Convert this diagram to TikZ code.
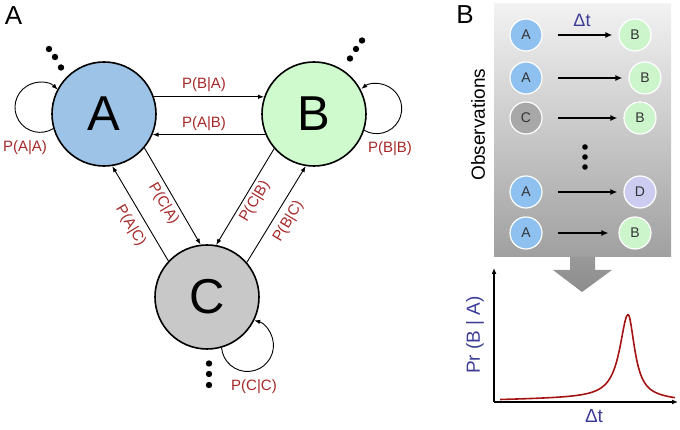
\documentclass[tikz,border=0pt]{standalone}
\usepackage{fontspec}
\setmainfont{Liberation Sans}
\usetikzlibrary{arrows.meta}
\definecolor{lblred}{RGB}{165,40,40}
\definecolor{Afill}{RGB}{157,195,230}
\definecolor{Bfill}{RGB}{206,250,206}
\definecolor{Cfill}{RGB}{200,200,200}
\definecolor{oA}{RGB}{142,192,240}
\definecolor{oB}{RGB}{204,245,204}
\definecolor{oC}{RGB}{168,168,168}
\definecolor{oD}{RGB}{204,204,240}
\definecolor{dtblue}{RGB}{60,60,150}
\definecolor{boxtop}{RGB}{242,242,242}
\definecolor{boxbot}{RGB}{160,160,160}
\definecolor{curvered}{RGB}{165,20,20}
\begin{document}
\begin{tikzpicture}[x=1pt,y=1pt,
  bigstate/.style={circle, draw=black, line width=1.6pt, minimum size=104pt, inner sep=0pt, font=\fontsize{49}{49}\selectfont},
  conn/.style={-{Latex[length=6pt,width=4.5pt]}, line width=0.9pt},
  plab/.style={text=lblred, font=\fontsize{15}{15}\selectfont, inner sep=0pt},
  panel/.style={font=\fontsize{26}{26}\selectfont, inner sep=0pt},
  obs/.style={circle, draw=white, line width=1.2pt, minimum size=32pt, inner sep=0pt, font=\fontsize{14}{14}\selectfont, text=black!80},
  obsarrow/.style={-{Latex[length=7pt,width=6pt]}, line width=1.8pt, shorten <=15pt, shorten >=6pt},
  axis/.style={-{Latex[length=6pt,width=5pt]}, line width=1.6pt},
  curve/.style={draw=curvered, line width=1.6pt},
  bluelab/.style={text=dtblue, font=\fontsize{19}{19}\selectfont, inner sep=0pt}
]
\useasboundingbox (0,0) rectangle (680,430);

% ---------- Panel A ----------
\node[panel] (pa) at (13.5,414) {A};

\node[bigstate, fill=Afill] (A) at (104,316) {A};
\node[bigstate, fill=Bfill] (B) at (314,316) {B};
\node[bigstate, fill=Cfill] (C) at (207,133) {C};

\draw[conn] (A.19) -- (B.161);
\draw[conn] (B.-157) -- (A.-23);
\draw[conn] (A.-40) -- (C.97);
\draw[conn] (C.137) -- (A.-81);
\draw[conn] (B.221) -- (C.80);
\draw[conn] (C.41) -- (B.-99);

\draw[conn] (A.196) arc[start angle=-58, end angle=-315, radius=25];
\draw[conn] (B.-18) arc[start angle=-120, end angle=128, radius=25];
\draw[conn] (C.-74) arc[start angle=185, end angle=435, radius=26];

\node[plab] (lba) at (204,345) {P(B|A)};
\node[plab] (lab) at (204,306) {P(A|B)};
\node[plab, rotate=-59] (lca) at (163.5,226) {P(C|A)};
\node[plab, rotate=-59] (lac) at (130.5,204) {P(A|C)};
\node[plab, rotate=59] (lcb) at (255,228.5) {P(C|B)};
\node[plab, rotate=59] (lbc) at (288.5,208.5) {P(B|C)};
\node[plab] (laa) at (25,282.5) {P(A|A)};
\node[plab] (lbb) at (390,281.5) {P(B|B)};
\node[plab] (lcc) at (254,43.5) {P(C|C)};

\fill (49,381) circle (3.2);
\fill (55,373) circle (3.2);
\fill (61,362.5) circle (3.2);
\fill (362,389.5) circle (3.2);
\fill (356,381) circle (3.2);
\fill (350,371.5) circle (3.2);
\fill (209,66.5) circle (3.2);
\fill (209,56) circle (3.2);
\fill (209,45) circle (3.2);

% ---------- Panel B ----------
\node[panel] (pb) at (465,415) {B};

\shade[top color=boxtop, bottom color=boxbot] (494,426) rectangle (671,173);
\shade[top color=black!40, bottom color=black!45]
  (570,173) -- (595,173) -- (595,160) -- (612,160) -- (582,138) -- (553,160) -- (570,160) -- cycle;

\node[obs, fill=oA] (l1) at (526,395) {A};
\node[obs, fill=oB] (r1) at (635,395) {B};
\node[obs, fill=oA] (l2) at (526,352) {A};
\node[obs, fill=oB] (r2) at (645,352) {B};
\node[obs, fill=oC] (l3) at (526,312) {C};
\node[obs, fill=oB] (r3) at (640,312) {B};
\node[obs, fill=oA] (l4) at (526,238) {A};
\node[obs, fill=oD] (r4) at (640,238) {D};
\node[obs, fill=oA] (l5) at (526,197) {A};
\node[obs, fill=oB] (r5) at (635,197) {B};

\draw[obsarrow] (l1) -- (r1);
\draw[obsarrow] (l2) -- (r2);
\draw[obsarrow] (l3) -- (r3);
\draw[obsarrow] (l4) -- (r4);
\draw[obsarrow, shorten >=10pt] (l5) -- (r5);

\node[bluelab, font=\fontsize{18}{18}\selectfont] (dt1) at (582,409.5) {Δt};

\fill (585,283) circle (2.8);
\fill (585,273) circle (2.8);
\fill (585,263) circle (2.8);

\node[rotate=90, font=\fontsize{19}{19}\selectfont, inner sep=0pt] (obsl) at (478,305.5) {Observations};

% plot
\coordinate (O) at (494,28);
\coordinate (ytop) at (494,162);
\coordinate (xend) at (678,28);
\draw[axis] (O) -- (ytop);
\draw[axis] (O) -- (xend);
\node[bluelab, rotate=90] (ylab) at (475,95) {Pr (B | A)};
\node[bluelab] (xlab) at (594,14) {Δt};

\draw[curve] plot[domain=500:628, samples=90]
  (\x, {30 + 0.02*(\x-500) + 83/(1+((\x-628)/10)*((\x-628)/10))});
\draw[curve] plot[domain=628:675, samples=60]
  (\x, {30 + 2.56*(675-\x)/47 + 83/(1+((\x-628)/8)*((\x-628)/8))});
\end{tikzpicture}
\end{document}
